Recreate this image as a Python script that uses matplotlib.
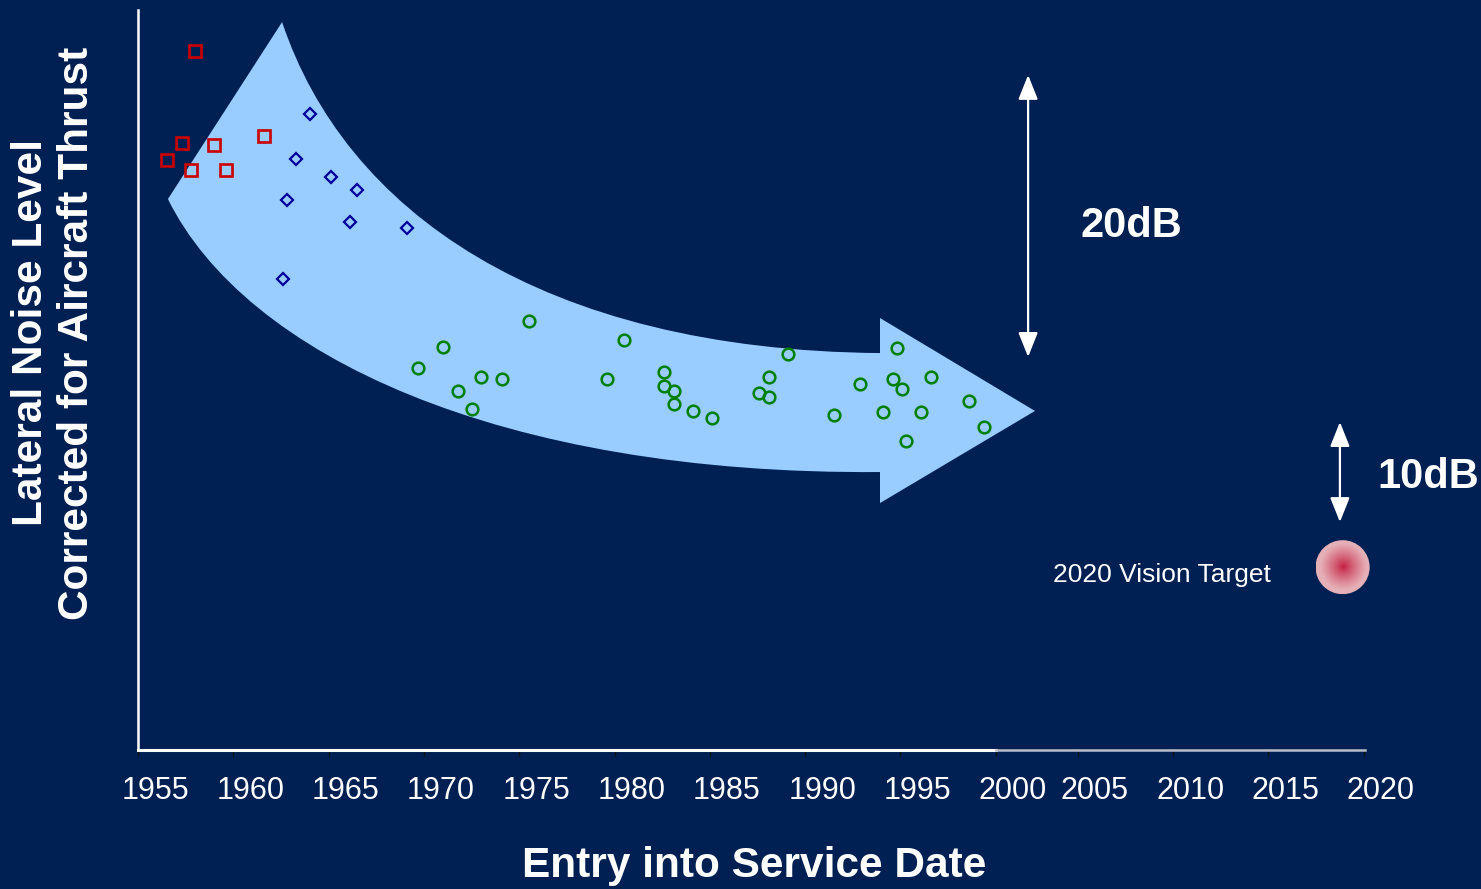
import numpy as np
import matplotlib
matplotlib.use("Agg")
import matplotlib.pyplot as plt
from matplotlib.path import Path
from matplotlib.patches import PathPatch, Ellipse

plt.rcParams['font.family'] = ['Liberation Sans', 'DejaVu Sans']

navy = '#001F52'

# aircraft entry into service (year) and relative lateral noise level (dB)
early_x = [1958.0, 1957.3, 1959.0, 1956.5, 1957.8, 1959.6, 1961.6]
early_y = [50.5, 43.8, 43.7, 42.6, 41.9, 41.9, 44.3]

second_x = [1964.0, 1963.3, 1965.1, 1966.5, 1962.8, 1966.1, 1969.1, 1962.6]
second_y = [45.9, 42.7, 41.4, 40.4, 39.7, 38.1, 37.7, 34.0]

modern_x = [1975.5, 1971.0, 1969.7, 1971.8, 1973.0, 1974.1, 1972.5, 1980.5,
            1979.6, 1982.6, 1982.6, 1983.1, 1983.1, 1984.1, 1985.1, 1989.1,
            1988.1, 1987.6, 1988.1, 1994.8, 1992.9, 1994.6, 1995.1, 1996.6,
            1991.5, 1994.1, 1996.1, 1998.6, 1999.4, 1995.3]
modern_y = [31.0, 29.1, 27.6, 25.9, 26.9, 26.8, 24.6, 29.6,
            26.8, 27.3, 26.3, 25.9, 25.0, 24.5, 24.0, 28.6,
            26.9, 25.8, 25.5, 29.0, 26.4, 26.8, 26.1, 26.9,
            24.2, 24.4, 24.4, 25.2, 23.3, 22.3]

target_year = 2018.2
target_level = 13.2

years = [1955, 1960, 1965, 1970, 1975, 1980, 1985, 1990, 1995, 2000,
         2005, 2010, 2015, 2020]
year_labels = [str(y) for y in years]

fig = plt.figure(figsize=(14.81, 8.89), dpi=100, facecolor=navy)
ax = fig.add_axes([138 / 1481, 139 / 889, 1334.2 / 1481, 740 / 889])
ax.set_facecolor(navy)
ax.set_xlim(1955, 2025)
ax.set_ylim(0, 53.43)

# big curved trend arrow
P = Path.CURVE4
verts = [(1962.56, 52.56), (1965.86, 38.99), (1976.09, 28.88), (1993.93, 28.66),
         (1993.93, 31.19), (2002.06, 24.48), (1993.93, 17.83), (1993.93, 20.07),
         (1973.99, 19.86), (1960.61, 28.52), (1956.57, 39.78), (1962.56, 52.56)]
codes = [Path.MOVETO, P, P, P, Path.LINETO, Path.LINETO, Path.LINETO, Path.LINETO,
         P, P, P, Path.CLOSEPOLY]
ax.add_patch(PathPatch(Path(verts, codes), facecolor='#99CCFF', edgecolor='none', zorder=1))

ax.plot(early_x, early_y, 's', ms=8, mew=1.9, mfc='none', mec='#CC0000', zorder=3, clip_on=False)
ax.plot(second_x, second_y, 'D', ms=6.6, mew=1.6, mfc='none', mec='#000099', zorder=3)
ax.plot(modern_x, modern_y, 'o', ms=8.4, mew=1.8, mfc='none', mec='#008000', zorder=3)

# 2020 target, radial gradient disc
rx, ry = 1.42, 1.95
gx, gy = np.meshgrid(np.linspace(-1, 1, 200), np.linspace(-1, 1, 200))
r = np.clip(np.sqrt(gx ** 2 + gy ** 2) / 0.85, 0, 1)[..., None] ** 0.8
c0 = np.array([0.76, 0.10, 0.24])
c1 = np.array([0.90, 0.69, 0.72])
img = c0 * (1 - r) + c1 * r
im = ax.imshow(img, extent=[target_year - rx, target_year + rx, target_level - ry, target_level + ry],
               aspect='auto', zorder=3, interpolation='bilinear')
clip = Ellipse((target_year, target_level), 2 * rx, 2 * ry, transform=ax.transData, facecolor='none',
               edgecolor='none')
ax.add_patch(clip)
im.set_clip_path(clip)

# reduction arrows
head = dict(arrowstyle='<|-|>,head_length=1.5,head_width=0.6', color='white', lw=1.6,
            shrinkA=0, shrinkB=0)
ax.annotate('', xy=(2001.7, 48.74), xytext=(2001.7, 28.38), arrowprops=head)
ax.annotate('', xy=(2018.06, 23.68), xytext=(2018.06, 16.46), arrowprops=head)

# axes
for s in ['top', 'right', 'bottom']:
    ax.spines[s].set_visible(False)
ax.spines['left'].set_color('white')
ax.spines['left'].set_linewidth(1.8)
ax.plot([1955, 2000], [0, 0], color='white', lw=2.2, clip_on=False, zorder=4)
ax.plot([2000, 2019.37], [0, 0], color='#B8BCC8', lw=1.8, clip_on=False, zorder=4)

ax.set_yticks([])
lab_pos = [y + 0.9 if y <= 2000 else y + 0.2 for y in years]
ax.set_xticks(lab_pos, year_labels)
ax.tick_params(axis='x', which='major', length=0, pad=19, labelsize=22, labelcolor='white')
mark_pos = [y if y <= 2000 else y - 0.7 for y in years]
ax.set_xticks(mark_pos, minor=True)
ax.tick_params(axis='x', which='minor', length=4, width=1, color='#111111')

fig.text(54 / 1481, 1 - 333 / 889, 'Lateral Noise Level\nCorrected for Aircraft Thrust',
         rotation=90, ha='center', va='center', ma='center', color='white',
         fontsize=30.5, fontweight='bold')
fig.text(754 / 1481, 1 - 877 / 889, 'Entry into Service Date', ha='center', va='baseline',
         color='white', fontsize=30.5, fontweight='bold')
fig.text(1131 / 1481, 1 - 237 / 889, '20dB', ha='center', va='baseline', color='white',
         fontsize=30, fontweight='bold')
fig.text(1428 / 1481, 1 - 488 / 889, '10dB', ha='center', va='baseline', color='white',
         fontsize=30, fontweight='bold')
fig.text(1053 / 1481, 1 - 582 / 889, '2020 Vision Target', ha='left', va='baseline',
         color='white', fontsize=19)

fig.savefig('out.png', dpi=100, facecolor=navy)
